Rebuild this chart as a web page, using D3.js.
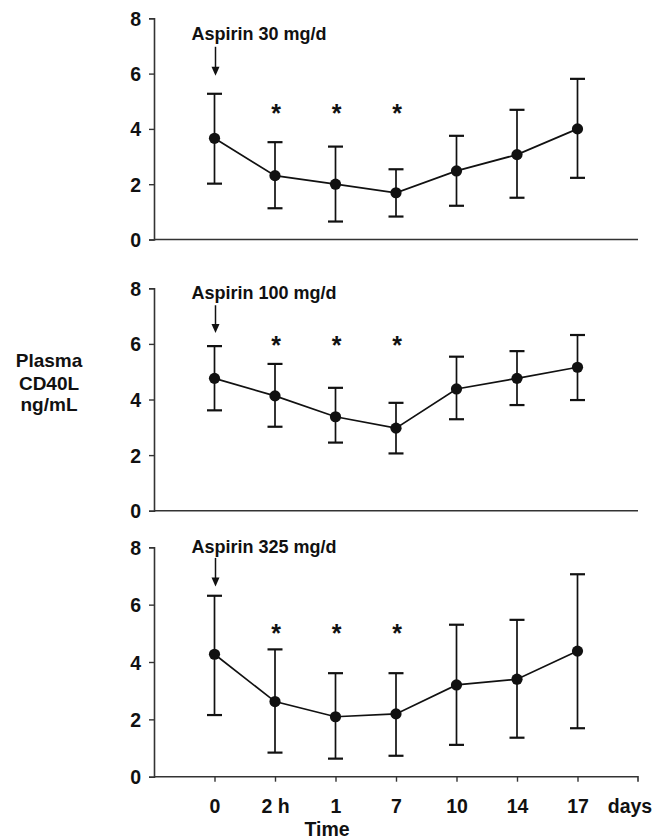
<!DOCTYPE html>
<html>
<head>
<meta charset="utf-8">
<script src="https://cdn.jsdelivr.net/npm/d3@7/dist/d3.min.js"></script>
<style>
  html, body { margin: 0; padding: 0; background: #fff; }
  svg { display: block; }
  text { font-family: "Liberation Sans", Arial, Helvetica, sans-serif; font-weight: bold; fill: #111; }
</style>
</head>
<body>
<svg id="chart" width="667" height="839"></svg>
<script>
// ---- data ----
const categories = ["0", "2 h", "1", "7", "10", "14", "17"];
const yTicks = [0, 2, 4, 6, 8];
const doses = ["Aspirin 30 mg/d", "Aspirin 100 mg/d", "Aspirin 325 mg/d"];

const mean30  = [3.66, 2.31, 2.00, 1.69, 2.48, 3.07, 4.00];
const upper30 = [5.27, 3.52, 3.36, 2.54, 3.75, 4.69, 5.81];
const lower30 = [2.02, 1.13, 0.65, 0.83, 1.22, 1.51, 2.23];

const mean100  = [4.76, 4.13, 3.38, 2.97, 4.38, 4.76, 5.16];
const upper100 = [5.92, 5.28, 4.42, 3.88, 5.54, 5.74, 6.32];
const lower100 = [3.61, 3.02, 2.45, 2.06, 3.29, 3.80, 3.98];

const mean325  = [4.27, 2.62, 2.09, 2.19, 3.20, 3.40, 4.38];
const upper325 = [6.31, 4.44, 3.61, 3.61, 5.30, 5.47, 7.06];
const lower325 = [2.15, 0.84, 0.63, 0.73, 1.11, 1.36, 1.69];

// significance markers (categories with *) and the level (data units) at which they sit
const starCats = ["2 h", "1", "7"];
const starLevel = [4.76, 6.14, 5.18];
// label baseline level and arrow start/end level (data units)
const labelLevel = [7.2, 7.6, 7.81];
const arrowTop = [6.97, 7.39, 7.63];
const arrowBottom = [5.92, 6.39, 6.63];

const panelsData = [
  { mean: mean30, upper: upper30, lower: lower30 },
  { mean: mean100, upper: upper100, lower: lower100 },
  { mean: mean325, upper: upper325, lower: lower325 }
];

// ---- layout ----
const svg = d3.select("#chart");
const xLeft = 154, xRight = 638;
const panelRanges = [[239.5, 18.3], [510.7, 288.3], [776.7, 547.3]];
const FONT = '"Liberation Sans", Arial, sans-serif';

const x = d3.scalePoint().domain(categories).range([xLeft, xRight]).padding(1);

panelsData.forEach((p, k) => {
  const y = d3.scaleLinear().domain([0, 8]).range(panelRanges[k]);
  const g = svg.append("g");

  // y axis
  const yAxis = d3.axisLeft(y).tickValues(yTicks).tickSize(5).tickPadding(8).tickFormat(d3.format("d"));
  const ya = g.append("g").attr("transform", `translate(${xLeft},0)`).call(yAxis);
  ya.select(".domain").attr("stroke", "#333").attr("stroke-width", 1.6);
  ya.selectAll(".tick line").attr("stroke", "#333").attr("stroke-width", 1.4);
  ya.selectAll(".tick text").attr("font-size", 19.5).attr("font-weight", "bold")
    .attr("font-family", FONT).attr("fill", "#111").attr("dy", "0.36em");

  // x axis line
  if (k < 2) {
    g.append("line").attr("x1", xLeft).attr("x2", xRight)
      .attr("y1", y(0)).attr("y2", y(0)).attr("stroke", "#333").attr("stroke-width", 1.6);
  } else {
    const xAxis = d3.axisBottom(x).tickSize(5).tickSizeOuter(5).tickPadding(16);
    const xa = g.append("g").attr("transform", `translate(0,${y(0)})`).call(xAxis);
    xa.select(".domain").attr("stroke", "#333").attr("stroke-width", 1.6)
      .attr("d", `M${xLeft},0H${xRight}V5`);
    xa.selectAll(".tick line").attr("stroke", "#333").attr("stroke-width", 1.4);
    xa.selectAll(".tick text").attr("font-size", 19.5).attr("font-weight", "bold")
      .attr("font-family", FONT).attr("fill", "#111").attr("dy", "0.76em");
    g.append("text").attr("x", 630).attr("y", y(0) + 36.5).attr("text-anchor", "middle")
      .attr("font-size", 19.5).text("days");
    g.append("text").attr("x", 327).attr("y", y(0) + 59.5).attr("text-anchor", "middle")
      .attr("font-size", 19.5).text("Time");
  }

  // error bars
  const cap = 7.5;
  categories.forEach((c, i) => {
    const cx = x(c);
    g.append("line").attr("x1", cx).attr("x2", cx)
      .attr("y1", y(p.lower[i])).attr("y2", y(p.upper[i]))
      .attr("stroke", "#111").attr("stroke-width", 1.7);
    [p.lower[i], p.upper[i]].forEach(v => {
      g.append("line").attr("x1", cx - cap).attr("x2", cx + cap)
        .attr("y1", y(v)).attr("y2", y(v))
        .attr("stroke", "#111").attr("stroke-width", 2.2);
    });
  });

  // line
  const line = d3.line().x((d, i) => x(categories[i])).y(d => y(d));
  g.append("path").datum(p.mean).attr("d", line)
    .attr("fill", "none").attr("stroke", "#111").attr("stroke-width", 1.7);

  // points
  g.selectAll("circle.pt").data(p.mean).enter().append("circle")
    .attr("cx", (d, i) => x(categories[i])).attr("cy", d => y(d))
    .attr("r", 5.6).attr("fill", "#111");

  // asterisks
  starCats.forEach(c => {
    g.append("text").attr("x", x(c) + 1).attr("y", y(starLevel[k]) + 14)
      .attr("text-anchor", "middle").attr("font-size", 25).text("*");
  });

  // label and arrow
  g.append("text").attr("x", x(categories[0]) - 23).attr("y", y(labelLevel[k]))
    .attr("font-size", 18).text(doses[k]);
  const ax = x(categories[0]) + 1;
  g.append("line").attr("x1", ax).attr("x2", ax)
    .attr("y1", y(arrowTop[k])).attr("y2", y(arrowBottom[k]) - 7)
    .attr("stroke", "#111").attr("stroke-width", 1.5);
  const tipY = y(arrowBottom[k]);
  g.append("path").attr("d", `M${ax - 4},${tipY - 9}L${ax + 4},${tipY - 9}L${ax},${tipY}Z`)
    .attr("fill", "#111");
});

// y-axis title
const yt = svg.append("text").attr("text-anchor", "middle").attr("font-size", 19);
[["Plasma", 367], ["CD40L", 389.5], ["ng/mL", 411]].forEach(([t, yy]) => {
  yt.append("tspan").attr("x", 49).attr("y", yy).text(t);
});
</script>
</body>
</html>
